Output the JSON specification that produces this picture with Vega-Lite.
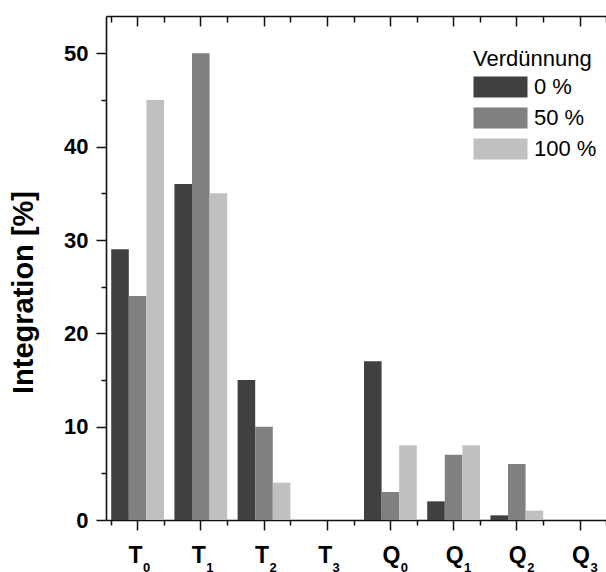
{
  "$schema": "https://vega.github.io/schema/vega-lite/v6.json",
  "width": 500,
  "height": 504,
  "autosize": {"type": "none"},
  "padding": {"left": 106, "top": 16, "right": 0, "bottom": 52},
  "config": {
    "view": {"stroke": null},
    "font": "Liberation Sans",
    "axis": {"domainColor": "#111111", "tickColor": "#111111", "domainWidth": 1.6, "tickWidth": 1.5, "grid": false}
  },
  "data": {
    "values": [
      {"cat": "T0", "dil": "0 %", "value": 29},
      {"cat": "T0", "dil": "50 %", "value": 24},
      {"cat": "T0", "dil": "100 %", "value": 45},
      {"cat": "T1", "dil": "0 %", "value": 36},
      {"cat": "T1", "dil": "50 %", "value": 50},
      {"cat": "T1", "dil": "100 %", "value": 35},
      {"cat": "T2", "dil": "0 %", "value": 15},
      {"cat": "T2", "dil": "50 %", "value": 10},
      {"cat": "T2", "dil": "100 %", "value": 4},
      {"cat": "T3", "dil": "0 %", "value": 0},
      {"cat": "T3", "dil": "50 %", "value": 0},
      {"cat": "T3", "dil": "100 %", "value": 0},
      {"cat": "Q0", "dil": "0 %", "value": 17},
      {"cat": "Q0", "dil": "50 %", "value": 3},
      {"cat": "Q0", "dil": "100 %", "value": 8},
      {"cat": "Q1", "dil": "0 %", "value": 2},
      {"cat": "Q1", "dil": "50 %", "value": 7},
      {"cat": "Q1", "dil": "100 %", "value": 8},
      {"cat": "Q2", "dil": "0 %", "value": 0.5},
      {"cat": "Q2", "dil": "50 %", "value": 6},
      {"cat": "Q2", "dil": "100 %", "value": 1},
      {"cat": "Q3", "dil": "0 %", "value": 0},
      {"cat": "Q3", "dil": "50 %", "value": 0},
      {"cat": "Q3", "dil": "100 %", "value": 0}
    ]
  },
  "layer": [
    {
      "mark": {"type": "bar"},
      "encoding": {
        "x": {
          "field": "cat", "type": "nominal",
          "sort": ["T0", "T1", "T2", "T3", "Q0", "Q1", "Q2", "Q3"],
          "scale": {"range": [0, 505.6], "paddingInner": 0.165, "paddingOuter": 0.0825},
          "axis": {
            "orient": "bottom", "title": null, "domain": true, "ticks": true, "tickSize": 10,
            "labelExpr": "substring(datum.value, 0, 1)",
            "labelFont": "Liberation Sans", "labelFontWeight": "bold", "labelFontSize": 23,
            "labelColor": "#000000", "labelAngle": 0, "labelBaseline": "top", "labelPadding": 14,
            "labelOffset": {"condition": {"test": "indexof(datum.value, 'T') === 0", "value": -2}, "value": 1}
          }
        },
        "xOffset": {"field": "dil", "type": "nominal", "sort": ["0 %", "50 %", "100 %"]},
        "y": {
          "field": "value", "type": "quantitative",
          "scale": {"domain": [0, 54], "nice": false},
          "axis": {
            "orient": "left",
            "title": "Integration [%]",
            "values": [0, 10, 20, 30, 40, 50],
            "tickSize": 10,
            "labelFont": "Liberation Sans", "labelFontWeight": "bold", "labelFontSize": 22,
            "labelColor": "#000000", "labelPadding": 8,
            "titleFont": "Liberation Sans", "titleFontWeight": "bold", "titleFontSize": 29,
            "titleColor": "#000000", "titleX": -83, "titleY": 276, "titleBaseline": "middle", "titleAlign": "center", "titleAngle": -90
          }
        },
        "color": {
          "field": "dil", "type": "nominal",
          "scale": {"domain": ["0 %", "50 %", "100 %"], "range": ["#404040", "#808080", "#c0c0c0"]},
          "legend": {
            "title": "Verdünnung", "orient": "none", "legendX": 367, "legendY": 33,
            "padding": 0,
            "titleFont": "Liberation Sans", "titleFontSize": 22, "titleFontWeight": "normal", "titleColor": "#000000", "titlePadding": 5,
            "labelFont": "Liberation Sans", "labelFontSize": 22, "labelColor": "#000000", "labelOffset": 39,
            "symbolType": "M-1,-1H4.143V1H-1Z", "symbolSize": 441, "symbolStrokeWidth": 0, "symbolOpacity": 1,
            "rowPadding": 9
          }
        }
      }
    },
    {
      "mark": {"type": "point", "opacity": 0},
      "encoding": {
        "x": {
          "field": "cat", "type": "nominal",
          "sort": ["T0", "T1", "T2", "T3", "Q0", "Q1", "Q2", "Q3"],
          "axis": {
            "orient": "bottom", "title": null, "domain": false, "ticks": false,
            "labelExpr": "substring(datum.value, 1)",
            "labelFont": "Liberation Sans", "labelFontWeight": "bold", "labelFontSize": 13,
            "labelColor": "#000000", "labelAngle": 0, "labelBaseline": "top", "labelPadding": 41,
            "labelOffset": {"condition": {"test": "indexof(datum.value, 'T') === 0", "value": 9}, "value": 14}
          }
        },
        "y": {
          "field": "value", "type": "quantitative",
          "axis": {
            "orient": "left", "title": null, "domain": false, "labels": false, "ticks": true, "tickSize": 5,
            "values": [5, 15, 25, 35, 45]
          }
        }
      }
    },
    {
      "mark": {"type": "point", "opacity": 0},
      "encoding": {
        "x": {
          "field": "cat", "type": "nominal",
          "sort": ["T0", "T1", "T2", "T3", "Q0", "Q1", "Q2", "Q3"],
          "axis": {"orient": "bottom", "title": null, "domain": false, "ticks": true, "tickSize": 5, "tickBand": "extent", "labels": false}
        }
      }
    },
    {
      "mark": {"type": "point", "opacity": 0},
      "encoding": {
        "x": {
          "field": "cat", "type": "nominal",
          "sort": ["T0", "T1", "T2", "T3", "Q0", "Q1", "Q2", "Q3"],
          "axis": {"orient": "top", "title": null, "domain": true, "ticks": true, "tickSize": -10, "labels": false}
        }
      }
    },
    {
      "mark": {"type": "point", "opacity": 0},
      "encoding": {
        "x": {
          "field": "cat", "type": "nominal",
          "sort": ["T0", "T1", "T2", "T3", "Q0", "Q1", "Q2", "Q3"],
          "axis": {"orient": "top", "title": null, "domain": false, "ticks": true, "tickSize": -6, "tickBand": "extent", "labels": false}
        }
      }
    }
  ],
  "resolve": {"axis": {"x": "independent", "y": "independent"}}
}
